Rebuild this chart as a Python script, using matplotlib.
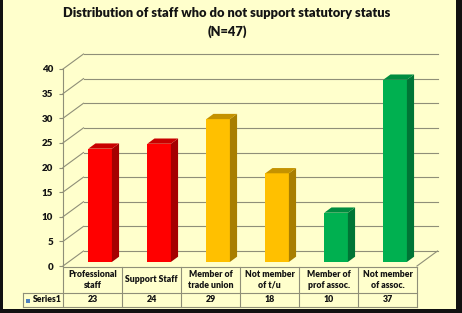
import matplotlib
matplotlib.use("Agg")
import matplotlib.pyplot as plt
from matplotlib.patches import Polygon, Rectangle

categories = ["Professional\nstaff", "Support Staff", "Member of\ntrade union",
              "Not member\nof t/u", "Member of\nprof assoc.", "Not member\nof assoc."]
values = [23, 24, 29, 18, 10, 37]
series_name = "Series1"
yticks = [0, 5, 10, 15, 20, 25, 30, 35, 40]
title = "Distribution of staff who do not support statutory status\n(N=47)"

front_colors = ["#FF0000", "#FF0000", "#FFC000", "#FFC000", "#00B050", "#00B050"]
side_colors = ["#A50000", "#A50000", "#A87E00", "#A87E00", "#007535", "#007535"]
top_colors = ["#C80000", "#C80000", "#C49200", "#C49200", "#008C40", "#008C40"]

W, H = 462, 313
BG = "#FFFFCC"
GRID = "#8F8F78"
TXT = "#141414"
FONT = ["Lato", "DejaVu Sans"]

fig = plt.figure(figsize=(W / 100, H / 100), dpi=100)
fig.patch.set_facecolor(BG)

# axes: x 0..6 from px 63..417 ; y 0..40 from px 266..69
x0p, x1p, y0p, y1p = 63, 417, 266, 69
ax = fig.add_axes([x0p / W, (H - y0p) / H, (x1p - x0p) / W, (y0p - y1p) / H])
ax.set_xlim(0, 6)
ax.set_ylim(0, 40)
ax.patch.set_alpha(0)
for s in ax.spines.values():
    s.set_visible(False)

pxx = 6 / (x1p - x0p)      # data per px in x
pxy = 40 / (y0p - y1p)     # data per px in y
DX = 20.5 * pxx
DY = 15 * pxy

def py(p):  # pixel y -> data y
    return (y0p - p) * pxy

def px(p):
    return (p - x0p) * pxx

# walls / gridlines
for t in yticks:
    ax.plot([0, DX], [t, t + DY], color=GRID, lw=0.8, clip_on=False, zorder=1)
    ax.plot([DX, 6 + DX], [t + DY, t + DY], color=GRID, lw=0.8, clip_on=False, zorder=1)
ax.plot([6, 6 + DX], [0, DY], color=GRID, lw=0.8, clip_on=False, zorder=1)
ax.plot([0, 0], [0, 40], color=GRID, lw=0.8, clip_on=False, zorder=1)

ax.set_xticks([])
ax.set_yticks(yticks)
ax.set_yticklabels([str(t) for t in yticks], fontsize=7, fontweight="heavy",
                   color=TXT, fontfamily=FONT)
ax.tick_params(axis="y", length=3, width=0.8, color=GRID, pad=4)

# bars (3D look)
f0, f1 = 0.27, 0.62
bw = 0.40
for i, (v, fc, sc, tc) in enumerate(zip(values, front_colors, side_colors, top_colors)):
    left = i + 0.335 + f0 * DX
    right = left + bw
    base = f0 * DY
    top = v + base
    ddx = (f1 - f0) * DX
    ddy = (f1 - f0) * DY
    ax.bar(left, v, width=bw, bottom=base, align="edge", color=fc, lw=0, zorder=3, clip_on=False)
    ax.add_patch(Polygon([(right, base), (right + ddx, base + ddy), (right + ddx, top + ddy), (right, top)],
                         closed=True, facecolor=sc, lw=0, zorder=3, clip_on=False))
    ax.add_patch(Polygon([(left, top), (right, top), (right + ddx, top + ddy), (left + ddx, top + ddy)],
                         closed=True, facecolor=tc, lw=0, zorder=3, clip_on=False))

# data table
r0, r1, r2 = py(266.5), py(293), py(307)
xl = px(23)
tl = dict(color=GRID, lw=0.8, clip_on=False, zorder=2)
ax.plot([0, 6], [r0, r0], **tl)
ax.plot([xl, 6], [r1, r1], **tl)
ax.plot([xl, 6], [r2, r2], **tl)
ax.plot([xl, xl], [r1, r2], **tl)
for k in range(7):
    ax.plot([k, k], [r0, r2], **tl)
for i, (c, v) in enumerate(zip(categories, values)):
    ax.text(i + 0.5, (r0 + r1) / 2, c, ha="center", va="center", fontsize=6.2,
            fontweight="heavy", color=TXT, fontfamily=FONT, linespacing=1.35, clip_on=False)
    ax.text(i + 0.5, (r1 + r2) / 2, str(v), ha="center", va="center", fontsize=6.4,
            fontweight="heavy", color=TXT, fontfamily=FONT, clip_on=False)
ax.add_patch(Rectangle((px(26.5), py(302.5)), 4 * pxx, 4 * pxy, facecolor="#4F81BD",
                       lw=0, clip_on=False, zorder=3))
ax.text(px(32.5), (r1 + r2) / 2, series_name, ha="left", va="center", fontsize=6.2,
        fontweight="heavy", color=TXT, fontfamily=FONT, clip_on=False)

# title
fig.text(227 / W, 1 - 22.5 / H, title, ha="center", va="center", fontsize=9.3,
         fontweight="heavy", color=TXT, fontfamily=FONT, linespacing=1.6)

# black frame edges
fig.patches.append(Rectangle((0, 0), 2.5 / W, 1, transform=fig.transFigure, facecolor="#111111", lw=0))
fig.patches.append(Rectangle((456 / W, 0), 6 / W, 1, transform=fig.transFigure, facecolor="#111111", lw=0))
fig.patches.append(Rectangle((0, 0), 1, 4 / H, transform=fig.transFigure, facecolor="#111111", lw=0))

fig.savefig("out.png", dpi=100, facecolor=BG)
